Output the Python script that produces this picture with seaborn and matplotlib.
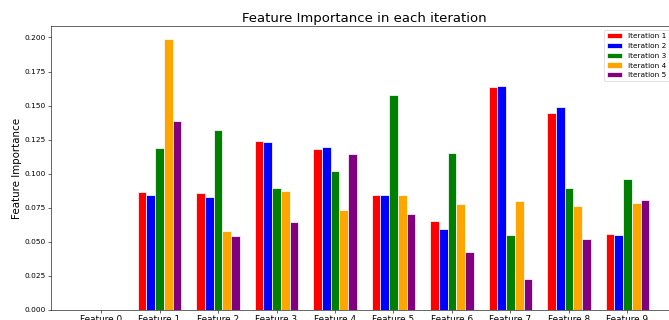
import matplotlib
matplotlib.use("Agg")
import matplotlib.pyplot as plt
import seaborn as sns
import pandas as pd

features = [f"Feature {i}" for i in range(10)]
iterations = ["Iteration 1", "Iteration 2", "Iteration 3", "Iteration 4", "Iteration 5"]
colors = ["red", "blue", "green", "orange", "purple"]

iter1 = [0.0, 0.0866, 0.0861, 0.1242, 0.1183, 0.0844, 0.0653, 0.1636, 0.1447, 0.0557]
iter2 = [0.0, 0.0846, 0.0829, 0.1232, 0.1198, 0.0844, 0.0592, 0.1645, 0.1489, 0.0550]
iter3 = [0.0, 0.1188, 0.1320, 0.0892, 0.1020, 0.1577, 0.1149, 0.0550, 0.0892, 0.0963]
iter4 = [0.0, 0.1985, 0.0577, 0.0870, 0.0733, 0.0844, 0.0778, 0.0800, 0.0760, 0.0782]
iter5 = [0.0, 0.1389, 0.0543, 0.0648, 0.1144, 0.0707, 0.0428, 0.0225, 0.0521, 0.0807]

series = [iter1, iter2, iter3, iter4, iter5]
rows = []
for it, vals in zip(iterations, series):
    for f, v in zip(features, vals):
        rows.append({"feature": f, "iteration": it, "importance": v})
df = pd.DataFrame(rows)

DPI = 53
fig = plt.figure(figsize=(669 / DPI, 320 / DPI), dpi=DPI)
ax = fig.add_axes([51 / 669, 10 / 320, 626.5 / 669, 284 / 320])

sns.barplot(data=df, x="feature", y="importance", hue="iteration",
            order=features, hue_order=iterations, palette=colors,
            width=0.75, edgecolor="white", linewidth=1, errorbar=None,
            saturation=1, ax=ax)

ax.set_xlim(-0.855, 9.855)
ax.set_ylim(0, 0.2084)
ax.set_yticks([0.0, 0.025, 0.05, 0.075, 0.1, 0.125, 0.15, 0.175, 0.2])
ax.set_yticklabels([f"{t:.3f}" for t in ax.get_yticks()], fontsize=10)
ax.tick_params(axis="x", labelsize=12)
ax.set_xlabel("")
ax.set_ylabel("Feature Importance", fontsize=14)
ax.set_title("Feature Importance in each iteration", fontsize=18)
ax.legend(loc="upper left", fontsize=10, title=None,
          bbox_to_anchor=(604 / 669, 1 - 30 / 320),
          bbox_transform=fig.transFigure, borderaxespad=0)

fig.savefig("out.png", dpi=DPI)
